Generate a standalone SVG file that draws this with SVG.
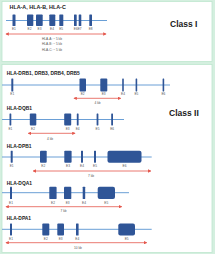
<svg xmlns="http://www.w3.org/2000/svg" width="215" height="254" viewBox="0 0 215 254">
<defs>
<style>
.bg{fill:#d4efdf}
.panel{fill:#ffffff;stroke:#bfe6cf;stroke-width:0.8}
.gl{stroke:#6a9fd6;stroke-width:1}
.ex{fill:#2f5597}
.ar{stroke:#e4574c;stroke-width:0.8;marker-start:url(#ah);marker-end:url(#ah)}
.t{font-family:"Liberation Sans",Arial,sans-serif;font-weight:bold;font-size:4.9px;fill:#1a1a1a}
.cl{font-family:"Liberation Sans",Arial,sans-serif;font-weight:bold;font-size:8.5px;fill:#1a1a1a}
.lb{font-family:"Liberation Sans",Arial,sans-serif;font-size:3.2px;fill:#555555;text-anchor:middle}
</style>
<marker id="ah" viewBox="0 0 6 6" refX="5" refY="3" markerWidth="3.4" markerHeight="3.4" markerUnits="userSpaceOnUse" orient="auto-start-reverse">
<path d="M0,0 L6,3 L0,6 z" fill="#e4574c"/>
</marker>
</defs>
<rect class="bg" x="0" y="0" width="215" height="254"/>
<rect class="panel" x="2" y="1.5" width="210" height="60"/>
<rect class="panel" x="2" y="64.5" width="210" height="188"/>

<g id="class1">
<text class="t" x="9.5" y="9.3" style="font-size:5.4px">HLA-A, HLA-B, HLA-C</text>
<text class="cl" x="170" y="27">Class I</text>
</g>
<g id="gene-hla-abc">
<line class="gl" x1="6" y1="20.5" x2="107" y2="20.5"/>
<rect class="ex" x="12.5" y="14.5" width="3" height="11.5" rx="0.6"/>
<rect class="ex" x="27" y="14.5" width="6.3" height="11.5" rx="0.8"/>
<rect class="ex" x="36" y="14.5" width="6.7" height="11.5" rx="0.8"/>
<rect class="ex" x="49.3" y="14.5" width="6" height="11.5" rx="0.8"/>
<rect class="ex" x="59.3" y="14.5" width="4" height="11.5" rx="0.6"/>
<rect class="ex" x="74" y="14.5" width="2.7" height="11.5" rx="0.5"/>
<rect class="ex" x="78.7" y="14.5" width="2.6" height="11.5" rx="0.5"/>
<rect class="ex" x="89.3" y="14.5" width="2.7" height="11.5" rx="0.5"/>
<text class="lb" x="13.9" y="30">E1</text>
<text class="lb" x="29.5" y="30">E2</text>
<text class="lb" x="39.5" y="30">E3</text>
<text class="lb" x="52" y="30">E4</text>
<text class="lb" x="61.2" y="30">E5</text>
<text class="lb" x="77.7" y="30">E6E7</text>
<text class="lb" x="90.6" y="30">E8</text>
<text class="lb" x="52" y="39.8">HLA-A: ~ 5 kb</text>
<text class="lb" x="52" y="44.8">HLA-B: ~ 5 kb</text>
<text class="lb" x="52" y="50.8">HLA-C: ~ 5 kb</text>
</g>

<g id="class2">
<text class="cl" x="169" y="116.3">Class II</text>
</g>

<g id="gene-drb">
<text class="t" x="6.7" y="74.5">HLA-DRB1, DRB3, DRB4, DRB5</text>
<line class="gl" x1="2" y1="85" x2="170" y2="85"/>
<rect class="ex" x="11.3" y="78.5" width="2" height="13" rx="0.5"/>
<rect class="ex" x="79.5" y="78.5" width="6.5" height="13" rx="0.9"/>
<rect class="ex" x="100.3" y="78.5" width="7" height="13" rx="0.9"/>
<rect class="ex" x="122.2" y="78.5" width="1.6" height="13" rx="0.4"/>
<rect class="ex" x="135.6" y="78.5" width="1.6" height="13" rx="0.4"/>
<rect class="ex" x="162.6" y="78.5" width="1.6" height="13" rx="0.4"/>
<text class="lb" x="12.3" y="95">E1</text>
<text class="lb" x="82.7" y="95">E2</text>
<text class="lb" x="103.7" y="95">E3</text>
<text class="lb" x="123" y="95">E4</text>
<text class="lb" x="136.4" y="95">E5</text>
<text class="lb" x="163.4" y="95">E6</text>
<text class="lb" x="97.5" y="104">4 kb</text>
</g>

<g id="gene-dqb1">
<text class="t" x="6.7" y="109.7">HLA-DQB1</text>
<line class="gl" x1="2" y1="119.5" x2="124" y2="119.5"/>
<rect class="ex" x="9.5" y="113.5" width="1.8" height="12" rx="0.4"/>
<rect class="ex" x="29.8" y="113.5" width="6.5" height="12" rx="0.9"/>
<rect class="ex" x="64.2" y="113.5" width="7" height="12" rx="0.9"/>
<rect class="ex" x="76.8" y="113.5" width="1.8" height="12" rx="0.4"/>
<rect class="ex" x="96.6" y="113.5" width="1.8" height="12" rx="0.4"/>
<rect class="ex" x="111.2" y="113.5" width="1.8" height="12" rx="0.4"/>
<text class="lb" x="10.4" y="129.5">E1</text>
<text class="lb" x="33" y="129.5">E2</text>
<text class="lb" x="67.7" y="129.5">E3</text>
<text class="lb" x="77.7" y="129.5">E4</text>
<text class="lb" x="97.5" y="129.5">E5</text>
<text class="lb" x="112.1" y="129.5">E6</text>
<text class="lb" x="50" y="140">4 kb</text>
</g>

<g id="gene-dpb1">
<text class="t" x="6.7" y="147.8">HLA-DPB1</text>
<line class="gl" x1="2" y1="157" x2="151.7" y2="157"/>
<rect class="ex" x="10.7" y="150.7" width="2" height="12" rx="0.4"/>
<rect class="ex" x="40" y="150.7" width="6.7" height="12" rx="0.9"/>
<rect class="ex" x="64.3" y="150.7" width="7.3" height="12" rx="0.9"/>
<rect class="ex" x="81" y="150.7" width="2" height="12" rx="0.4"/>
<rect class="ex" x="94" y="150.7" width="2" height="12" rx="0.4"/>
<rect class="ex" x="107.5" y="150.7" width="34" height="12" rx="2"/>
<text class="lb" x="11.7" y="167">E1</text>
<text class="lb" x="43.3" y="167">E2</text>
<text class="lb" x="68" y="167">E3</text>
<text class="lb" x="82" y="167">E4</text>
<text class="lb" x="95" y="167">E5</text>
<text class="lb" x="124.5" y="167">E6</text>
<text class="lb" x="91" y="177">7 kb</text>
</g>

<g id="gene-dqa1">
<text class="t" x="6.7" y="184.5">HLA-DQA1</text>
<line class="gl" x1="2" y1="192.7" x2="129" y2="192.7"/>
<rect class="ex" x="10" y="186.8" width="2" height="12.3" rx="0.4"/>
<rect class="ex" x="49.3" y="186.8" width="7.3" height="12.3" rx="0.9"/>
<rect class="ex" x="64" y="186.8" width="7.3" height="12.3" rx="0.9"/>
<rect class="ex" x="82.7" y="186.8" width="2.5" height="12.3" rx="0.5"/>
<rect class="ex" x="97.7" y="186.8" width="17.3" height="12.3" rx="2"/>
<text class="lb" x="11" y="204">E1</text>
<text class="lb" x="53" y="204">E2</text>
<text class="lb" x="67.7" y="204">E3</text>
<text class="lb" x="84" y="204">E4</text>
<text class="lb" x="106.3" y="204">E5</text>
<text class="lb" x="63.5" y="212.3">7 kb</text>
</g>

<g id="gene-dpa1">
<text class="t" x="6.7" y="219.5">HLA-DPA1</text>
<line class="gl" x1="2" y1="229.3" x2="151.7" y2="229.3"/>
<rect class="ex" x="10" y="223.5" width="2" height="12" rx="0.4"/>
<rect class="ex" x="42.3" y="223.5" width="7" height="12" rx="0.9"/>
<rect class="ex" x="57.3" y="223.5" width="6.7" height="12" rx="0.9"/>
<rect class="ex" x="76" y="223.5" width="2.6" height="12" rx="0.5"/>
<rect class="ex" x="118.3" y="223.5" width="16.7" height="12" rx="2"/>
<text class="lb" x="11" y="240.3">E1</text>
<text class="lb" x="45.8" y="240.3">E2</text>
<text class="lb" x="60.7" y="240.3">E3</text>
<text class="lb" x="77.3" y="240.3">E4</text>
<text class="lb" x="126.7" y="240.3">E5</text>
<text class="lb" x="78" y="248.5">10 kb</text>
</g>

<g id="connectors">
<line class="ar" x1="6" y1="34" x2="106" y2="34"/>
<line class="ar" x1="74" y1="98.3" x2="120.7" y2="98.3"/>
<line class="ar" x1="28.3" y1="133.3" x2="75" y2="133.3"/>
<line class="ar" x1="33.3" y1="171" x2="150.7" y2="171"/>
<line class="ar" x1="6" y1="206.7" x2="121.7" y2="206.7"/>
<line class="ar" x1="6" y1="242.7" x2="146.7" y2="242.7"/>
</g>
</svg>
